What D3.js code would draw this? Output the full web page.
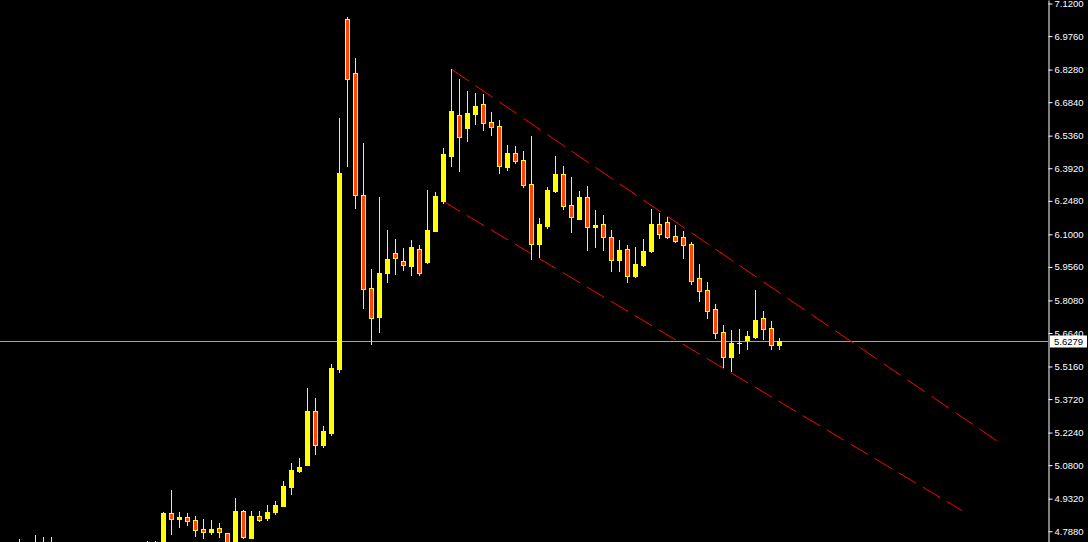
<!DOCTYPE html>
<html>
<head>
<meta charset="utf-8">
<script src="https://cdn.jsdelivr.net/npm/d3@7"></script>
<style>
  html, body { margin: 0; padding: 0; background: #000; overflow: hidden; }
  svg { display: block; }
</style>
</head>
<body>
<script>
// ---- Data ----
const openVals = [
  4.700, 4.710, 4.715, 4.720, 4.715, 4.725, 4.720, 4.710, 4.700, 4.695,
  4.690, 4.685, 4.690, 4.695, 4.700, 4.705, 4.700, 4.705, 4.700, 4.710,
  4.700, 4.8686, 4.8434, 4.8509, 4.8377, 4.7979, 4.7860, 4.8023, 4.7802, 4.700,
  4.8774, 4.7595, 4.8553, 4.8478, 4.8730, 4.9009, 4.9848, 5.0555, 5.0820, 5.3193,
  5.1691, 5.2220, 5.5063, 7.0515, 6.8129, 6.2738, 5.8629, 5.7360, 5.9305, 6.0162,
  5.9808, 5.9614, 6.0339, 5.9790, 6.1161, 6.2486, 6.4475, 6.6273, 6.5712, 6.6331,
  6.6760, 6.5964, 6.5787, 6.3989, 6.4594, 6.4285, 6.3224, 6.0586, 6.1381, 6.2928,
  6.3666, 6.2283, 6.1691, 6.2650, 6.1337, 6.1443, 6.0869, 5.9879, 6.0352, 5.9172,
  5.9632, 6.0277, 6.1457, 6.1545, 6.0926, 6.0882, 6.0573, 5.9070, 5.8540, 5.7701,
  5.6684, 5.5593, 5.6185, 5.6344, 5.6477, 5.7303, 5.6861, 5.6123
];
const highVals = [
  4.730, 4.732, 4.7537, 4.735, 4.7714, 4.7626, 4.7630, 4.728, 4.720, 4.715,
  4.712, 4.710, 4.715, 4.718, 4.722, 4.725, 4.722, 4.728, 4.745, 4.745,
  4.8730, 4.9702, 4.8730, 4.8686, 4.8553, 4.8420, 4.8377, 4.8244, 4.7815, 4.9349,
  4.8819, 4.8774, 4.8774, 4.9040, 4.9216, 5.0100, 5.0895, 5.1117, 5.4210, 5.3768,
  5.2530, 5.5270, 6.6140, 7.0617, 6.8792, 6.5036, 5.9468, 6.2650, 6.1192, 6.0794,
  6.0396, 6.0750, 6.0529, 6.2959, 6.2870, 6.4815, 6.8293, 6.7864, 6.7334, 6.7245,
  6.7201, 6.6406, 6.6052, 6.4948, 6.4903, 6.4682, 6.5345, 6.1722, 6.3105, 6.4462,
  6.4019, 6.3534, 6.2915, 6.3136, 6.2075, 6.1854, 6.1192, 6.0750, 6.0529, 6.0440,
  6.0794, 6.2119, 6.1943, 6.1766, 6.1413, 6.1147, 6.0661, 5.9689, 5.8894, 5.7922,
  5.6994, 5.6773, 5.6817, 5.6728, 5.8540, 5.7613, 5.7170, 5.6419
];
const lowVals = [
  4.680, 4.690, 4.700, 4.700, 4.700, 4.700, 4.700, 4.690, 4.680, 4.675,
  4.670, 4.668, 4.672, 4.678, 4.680, 4.685, 4.682, 4.686, 4.680, 4.690,
  4.690, 4.7771, 4.8081, 4.8156, 4.7683, 4.7595, 4.7771, 4.7639, 4.690, 4.690,
  4.7595, 4.7595, 4.8346, 4.8390, 4.8655, 4.9009, 4.9539, 5.0511, 5.0820, 5.1306,
  5.1616, 5.2146, 5.4930, 6.4033, 6.2177, 5.7758, 5.6154, 5.6697, 5.8907, 5.9247,
  5.9437, 5.9203, 5.9203, 5.9747, 6.1161, 6.2398, 6.4033, 6.3812, 6.5138, 6.5889,
  6.5624, 6.5403, 6.3724, 6.3856, 6.4166, 6.3105, 5.9923, 6.0012, 6.1293, 6.2884,
  6.2133, 6.1117, 6.1691, 6.0321, 6.0454, 6.0321, 5.9393, 5.9393, 5.8907, 5.9128,
  5.9587, 6.0233, 6.0851, 6.0851, 6.0674, 5.9967, 5.8819, 5.8067, 5.7316, 5.6432,
  5.5151, 5.4974, 5.5769, 5.5934, 5.6433, 5.6388, 5.5946, 5.5934
];
const closeVals = [
  4.710, 4.715, 4.720, 4.715, 4.725, 4.720, 4.710, 4.700, 4.695, 4.690,
  4.685, 4.690, 4.695, 4.700, 4.705, 4.700, 4.705, 4.700, 4.710, 4.700,
  4.8686, 4.8434, 4.8509, 4.8346, 4.7948, 4.7860, 4.7979, 4.7860, 4.720, 4.8774,
  4.7626, 4.8553, 4.8390, 4.8730, 4.9040, 4.9879, 5.0586, 5.0719, 5.3193, 5.1704,
  5.2310, 5.5093, 6.3710, 6.7877, 6.2752, 5.8598, 5.7316, 5.9291, 5.9910, 5.9967,
  5.9658, 6.0427, 5.9305, 6.1192, 6.2694, 6.4550, 6.6450, 6.5288, 6.6362, 6.6671,
  6.5933, 6.5756, 6.4033, 6.4594, 6.4254, 6.3193, 6.0586, 6.1457, 6.2959, 6.3666,
  6.2265, 6.1779, 6.2650, 6.1337, 6.1412, 6.0869, 5.9879, 6.0308, 5.9172, 5.9689,
  6.0264, 6.1457, 6.1028, 6.0895, 6.0719, 6.0542, 5.8951, 5.8510, 5.7626, 5.6653,
  5.5593, 5.6198, 5.6198, 5.6508, 5.7215, 5.6830, 5.6123, 5.6279
];
const priceTicks = [7.12, 6.976, 6.828, 6.684, 6.536, 6.392, 6.248, 6.1, 5.956,
  5.808, 5.664, 5.516, 5.372, 5.224, 5.08, 4.932, 4.788];
// channel lines: [bar index, price] endpoints
const upperChannel = [[56, 6.8293], [124.15, 5.1881]];
const lowerChannel = [[54.9, 6.2473], [119.85, 4.8788]];

// ---- Layout ----
const W = 1088, H = 542, axisX = 1048;
const candles = openVals.map((o, i) => ({ i, o, h: highVals[i], l: lowVals[i], c: closeVals[i] }));

const x = d3.scaleLinear().domain([0, candles.length - 1]).range([3.5, 3.5 + 8 * (candles.length - 1)]);
const y = d3.scaleLinear().domain([4.7405, 7.1355]).range([H, 0]);

const svg = d3.select('body').append('svg').attr('width', W).attr('height', H)
  .style('background', '#000');

svg.append('defs').append('clipPath').attr('id', 'plot')
  .append('rect').attr('x', 0).attr('y', 0).attr('width', axisX).attr('height', H);

const plot = svg.append('g').attr('clip-path', 'url(#plot)');

// current price line
const lastClose = closeVals[closeVals.length - 1];
const py = Math.floor(y(lastClose)) + 0.5;
plot.append('line').attr('x1', 0).attr('x2', axisX).attr('y1', py).attr('y2', py)
  .attr('stroke', '#9aa3ad').attr('stroke-width', 1);

// channel lines
function drawChannel(pts) {
  const x1 = x(pts[0][0]), y1 = y(pts[0][1]), x2 = x(pts[1][0]), y2 = y(pts[1][1]);
  const f = Math.hypot(x2 - x1, y2 - y1) / Math.abs(x2 - x1);
  plot.append('line').attr('x1', x1).attr('y1', y1).attr('x2', x2).attr('y2', y2)
    .attr('stroke', '#ff0000').attr('stroke-width', 1)
    .attr('stroke-dasharray', `${17.3 * f},${6.7 * f}`);
}
drawChannel(upperChannel);
drawChannel(lowerChannel);

// candles
const cg = plot.append('g');
candles.forEach(d => {
  const cx = x(d.i);
  cg.append('line').attr('x1', cx).attr('x2', cx)
    .attr('y1', Math.round(y(d.h))).attr('y2', Math.round(y(d.l)) + 1)
    .attr('stroke', '#ffff00').attr('stroke-width', 1);
  const top = Math.round(y(Math.max(d.o, d.c)));
  const bot = Math.round(y(Math.min(d.o, d.c)));
  const hgt = Math.max(1, bot - top + 1);
  cg.append('rect').attr('x', cx - 2.5).attr('y', top).attr('width', 5).attr('height', hgt)
    .attr('fill', '#ffff00');
  if (d.c < d.o && hgt > 2) {
    cg.append('rect').attr('x', cx - 1.5).attr('y', top + 1).attr('width', 3).attr('height', hgt - 2)
      .attr('fill', '#ff4500');
  }
});

// price axis
const axis = d3.axisRight(y).tickValues(priceTicks).tickFormat(d3.format('.4f'))
  .tickSize(4).tickSizeOuter(0).tickPadding(2);
const ag = svg.append('g').attr('transform', `translate(${axisX + 0.5},0)`).call(axis);
ag.select('.domain').attr('stroke', '#ffffff');
ag.selectAll('.tick line').attr('stroke', '#ffffff');
ag.selectAll('.tick text').attr('fill', '#ffffff')
  .style('font-family', '"Liberation Sans", Arial, sans-serif').style('font-size', '9.5px');

// current price label
svg.append('rect').attr('x', axisX + 2).attr('y', py - 6).attr('width', 37).attr('height', 12)
  .attr('fill', '#ffffff');
svg.append('text').attr('x', axisX + 6).attr('y', py).attr('dy', '0.34em')
  .attr('fill', '#000000')
  .style('font-family', '"Liberation Sans", Arial, sans-serif').style('font-size', '9.5px')
  .text(d3.format('.4f')(lastClose));
</script>
</body>
</html>
